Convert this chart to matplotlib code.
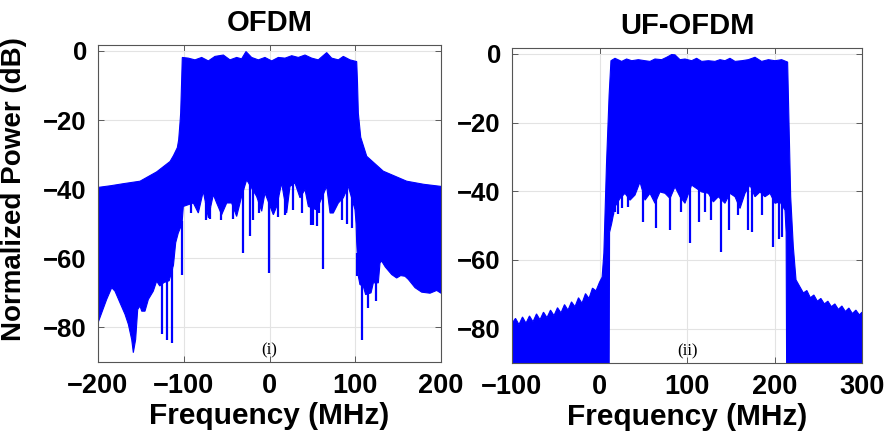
import numpy as np
import matplotlib
matplotlib.use("Agg")
import matplotlib.pyplot as plt

plt.rcParams['font.family'] = ['Liberation Sans', 'DejaVu Sans']
plt.rcParams['font.weight'] = 'bold'

BLUE = '#0000ff'

# ---------------- OFDM (i) ----------------
# upper edge of the spectrum (MHz, dB)
ofdm_up_f = [-200, -185, -170, -151, -131.6, -116, -112, -107.5, -105.9, -104.4, -103.6, -102.5,
             -101.7, -94.7, -86.9, -79.1, -71.3, -63.6, -53.8, -46.1, -38.3, -32.5, -27.4, -20.8,
             -13.0, -5.3, 2.5, 10.3, 18.1, 25.9, 33.6, 41.4, 49.2, 56.9, 66.7, 72.5, 80.3, 86.1,
             93.9, 101.7, 102.6, 103.6, 106.4, 113.4, 132.7, 160, 180, 200]
ofdm_up_db = [-39.5, -39.0, -38.4, -37.7, -35.0, -32.0, -30.3, -28.0, -25.7, -20.9, -18.0, -9.0,
              -1.9, -2.1, -2.6, -1.9, -2.9, -1.6, -1.2, -2.6, -1.9, -2.3, -0.2, -1.9,
              -2.6, -1.9, -2.9, -1.9, -2.1, -1.4, -1.9, -1.2, -2.1, -2.6, -0.5, -2.1, -2.6, -1.6,
              -2.6, -3.1, -9.0, -18.0, -25.0, -30.5, -34.8, -37.7, -38.6, -39.2]
# lower edge of the spectrum
ofdm_lo_f = [-200, -195.7, -189.9, -184, -180.2, -174.3, -168.5, -164.6, -160.7, -158.8, -156.1,
             -153.7, -151, -149, -145.2, -141.3, -135.5, -131.6, -128, -123, -117, -112, -109.4,
             -106.4, -102, -100.5, -94.7, -88.8, -83.0, -77.2, -71.3, -65.5, -61.6, -55.8, -49.9,
             -44.1, -38.3, -32.5, -26.6, -15.0, -9.1, -5.3, 4.5, 8.4, 14.2, 20.0, 23.9, 29.7,
             35.6, 41.4, 45.3, 55.0, 66.7, 70.6, 74.4, 80.3, 86.1, 91.9, 99.7, 101.0, 101.6,
             103.6, 105.5, 109.4, 112.1, 118.4, 121.1, 126.9, 128.9, 130.8, 135, 142.5, 148.3,
             153, 158, 161.9, 169.7, 177.5, 187.2, 195, 200]
ofdm_lo_db = [-78.7, -75.8, -71.9, -68.5, -69.5, -72.9, -76.2, -79.1, -83.5, -87.3, -83.5,
              -74.8, -73.8, -75.3, -75.3, -71.9, -69.5, -66.6, -68.0, -67.0, -66.5, -62.0, -55.5,
              -52.7, -50.0, -45.0, -44.5, -44.0, -46.9, -40.6, -48.3, -41.6, -44.0, -47.4, -44.0,
              -44.0, -47.9, -42.1, -37.3, -42.1, -46.4, -41.1, -47.4, -45.0, -38.2, -46.9, -39.2, -38.2,
              -42.5, -40.1, -45.0, -46.0, -39.2, -46.9, -46.9, -44.0, -42.5, -39.2, -45.9, -50.0, -55.0,
              -65.2, -67.6, -68.1, -70.5, -70.0, -67.1, -67.1, -61.3, -60.8, -62.5, -64.7, -65.7,
              -65.0, -65.2, -66.1, -68.5, -69.8, -70.1, -69.3, -70.1]
# narrow dips below the lower edge
ofdm_dip_f = [-125.7, -119.9, -114.1, -102.5, -91, -74, -69.4, -57, -42, -30.5, -22.7, -18.9,
              -12, -0.2, 10, 18.1, 27, 38, 48.5, 51.1, 55.0, 58, 62.0, 85, 90, 95.8,
              102.5, 107.5, 115.3, 123.8]
ofdm_dip_db = [-82.0, -83.5, -84.4, -64.7, -47, -49, -48.6, -49, -48.5, -58.4, -53.6, -48.8,
               -47, -64.2, -48, -47.4, -46, -47, -50.5, -50.3, -50.7, -47, -63.2, -49, -50, -51.2,
               -65, -83.5, -74.3, -72.4]

# ---------------- UF-OFDM (ii) ----------------
uf_up_f = [-100, -96, -92, -88, -84, -80, -76, -72, -68, -64, -60, -56, -52, -48, -44, -40, -36,
           -32, -28, -24, -20, -16, -12, -8, -4, 0, 3, 5, 8, 11,
           13.1, 17.7, 25.3, 31.0, 36.8, 44.4, 52.0, 57.7, 63.4, 71.0, 76.8, 82.5, 86.3, 92.0,
           97.7, 105.3, 111.0, 116.8, 124.4, 132.0, 137.7, 143.4, 149.1, 154.9, 162.5, 170.1,
           177.7, 185.3, 193.0, 200.6, 208.2, 215.0,
           218.5, 221.5, 224.6, 229, 233, 237, 241, 245, 249, 253, 257, 261, 265, 269, 273,
           277, 281, 285, 289, 293, 297, 300]
uf_up_db = [-78.5, -77.0, -78.8, -76.6, -78.4, -76.3, -78.0, -75.7, -77.4, -75.2, -76.8, -74.6,
            -76.2, -73.9, -75.4, -73.0, -74.6, -72.2, -73.6, -71.0, -72.6, -69.8, -71.2, -68.2,
            -69.0, -66.5, -65.0, -58.0, -32.0, -12.0,
            -2.0, -1.3, -2.2, -1.5, -2.0, -1.7, -2.0, -2.2, -1.5, -1.7, -1.0, -0.2, -0.3, -1.7,
            -1.5, -2.0, -1.3, -2.2, -2.0, -2.2, -1.7, -2.0, -1.3, -2.2, -2.0, -1.7,
            -1.0, -2.2, -1.7, -2.0, -1.7, -2.4,
            -41.6, -56.1, -65.8, -67.8, -69.6, -68.9, -71.0, -70.2, -72.0, -71.2, -72.8, -72.0,
            -73.6, -72.8, -74.4, -73.4, -75.0, -74.0, -75.6, -74.6, -76.0, -75.2]
uf_lo_f = [-100, 11.0, 11.5, 13.9, 17.7, 23.4, 29.1, 34.9, 40.6, 46.3, 52.0, 57.7, 63.4, 69.1,
           74.9, 80.6, 86.3, 92.0, 97.7, 105.3, 111.0, 116.8, 124.4, 130.1, 135.8, 143.4,
           149.1, 154.9, 160.6, 166.3, 172.0, 177.7, 183.4, 189.1, 194.9, 200.6, 206.3, 212.0,
           213.3, 213.9, 300]
uf_lo_db = [-95, -95, -52.0, -49.4, -44.5, -42.1, -40.6, -42.6, -41.1, -37.3, -42.6, -40.6,
            -43.5, -40.2, -40.6, -42.1, -38.7, -41.6, -43.5, -38.2, -39.2, -40.2, -40.6, -43.1,
            -41.6, -43.5, -40.6, -41.6, -45.0, -40.6, -38.2, -41.6, -40.2, -41.6, -40.6, -43.5,
            -43.1, -45.5, -52.0, -95, -95]
uf_dip_f = [15.5, 17.7, 21, 26, 33, 50.1, 64.6, 80.6, 93, 103.0, 113.7, 120, 127.0, 138.9,
            148.0, 158, 170.1, 173.9, 186, 197.9, 205.1, 208.2]
uf_dip_db = [-47, -46, -46.5, -45, -44.5, -48.9, -50.8, -51.3, -46, -55.0, -48.9, -46, -48.4,
             -57.6, -51.3, -47, -51.3, -51.8, -47, -56.1, -54.0, -53.2]


def spectrum(ax, up_f, up_db, lo_f, lo_db, dip_f, dip_db):
    xs = np.r_[up_f, lo_f[::-1]]
    ys = np.r_[up_db, lo_db[::-1]]
    ax.fill(xs, ys, color=BLUE, lw=0.8, ec=BLUE, zorder=2)
    # dips hang from the lower edge
    top = np.interp(dip_f, lo_f, lo_db) + 1
    ax.vlines(dip_f, dip_db, top, color=BLUE, lw=1.6, zorder=2)


fig = plt.figure(figsize=(8.86, 4.40), dpi=100)
ax1 = fig.add_axes([98/886, 1-362/440, 343/886, 317/440])
ax2 = fig.add_axes([512/886, 1-363/440, 350/886, 315/440])

spectrum(ax1, ofdm_up_f, ofdm_up_db, ofdm_lo_f, ofdm_lo_db, ofdm_dip_f, ofdm_dip_db)
spectrum(ax2, uf_up_f, uf_up_db, uf_lo_f, uf_lo_db, uf_dip_f, uf_dip_db)

ax1.set_xlim(-200, 200)
ax1.set_xticks([-200, -100, 0, 100, 200])
ax2.set_xlim(-100, 300)
ax2.set_xticks([-100, 0, 100, 200, 300])

for ax, title, tag in [(ax1, 'OFDM', '(i)'), (ax2, 'UF-OFDM', '(ii)')]:
    ax.set_ylim(-90, 1.7)
    ax.set_yticks([0, -20, -40, -60, -80])
    ax.grid(True, color='#e3e3e3', lw=0.8)
    ax.set_axisbelow(True)
    ax.tick_params(direction='in', top=True, right=True, length=4, width=0.6,
                   color='#444444', pad=8)
    for lab in ax.get_xticklabels():
        lab.set_fontsize(19.5)
    for lab in ax.get_yticklabels():
        lab.set_fontsize(18.5)
    for s in ax.spines.values():
        s.set_color('#555555')
        s.set_linewidth(0.8)
    ax.set_title(title, fontsize=21, fontweight='bold', pad=10)
    ax.set_xlabel('Frequency (MHz)', fontsize=21.5, fontweight='bold', labelpad=2)
    ax.text(0.5, 0.038, tag, transform=ax.transAxes, ha='center', va='center',
            family='Liberation Serif', fontweight='normal', fontsize=12)

ax1.set_ylabel('Normalized Power (dB)', fontsize=20, fontweight='bold')
ax1.yaxis.set_label_coords(-0.207, 0.546)

fig.savefig('out.png', dpi=100)
